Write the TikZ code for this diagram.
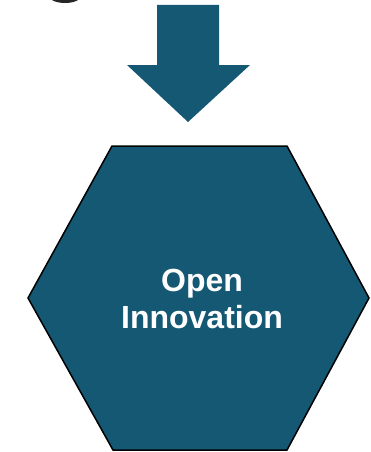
\documentclass[tikz,border=0pt]{standalone}
\usepackage{fontspec}
\setmainfont{Liberation Sans}
\usetikzlibrary{positioning}
\definecolor{oiblue}{RGB}{20,88,116}

\begin{document}
\begin{tikzpicture}[x=1pt,y=-1pt]
                \useasboundingbox (0,0) rectangle (370,452);
                \fill[black!85] (52,0) .. controls (58,4) and (72,4) .. (78,0) -- cycle;
                \fill[oiblue] (157,5) -- (219,5) -- (219,65) -- (250,65) -- (188,122) -- (127,65) -- (157,65) -- cycle;
                \draw[fill=oiblue,line width=1.5pt] (112,146) -- (287,146) -- (369,298) -- (287,450) -- (113,450) -- (28,298) -- cycle;
                \node[text=white,font=\bfseries\fontsize{32}{37}\selectfont,align=center] (OI) at (202,299) {Open\\Innovation};
            \end{tikzpicture}
\end{document}
